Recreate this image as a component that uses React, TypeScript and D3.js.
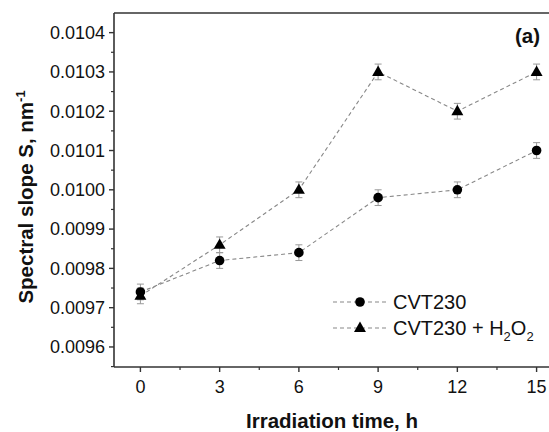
import * as d3 from 'd3';

const times = [0, 3, 6, 9, 12, 15];
const cvt230 = [0.00974, 0.00982, 0.00984, 0.00998, 0.01, 0.0101];
const cvt230H2O2 = [0.00973, 0.00986, 0.01, 0.0103, 0.0102, 0.0103];
const errCvt = [0.00002, 0.00002, 0.00002, 0.00002, 0.00002, 0.00002];
const errH2O2 = [0.00002, 0.00002, 0.00002, 0.00002, 0.00002, 0.00002];
const yTicks = [0.0096, 0.0097, 0.0098, 0.0099, 0.01, 0.0101, 0.0102, 0.0103, 0.0104];
const xTicks = [0, 3, 6, 9, 12, 15];

const W = 549;
const H = 432;
const margin = { left: 114, top: 13, right: 563, bottom: 367 };
const FONT = 'Liberation Sans, Arial, sans-serif';

export default function App() {
  const x = d3.scaleLinear().domain([-1, 16]).range([margin.left, margin.right]);
  const y = d3.scaleLinear().domain([0.009549, 0.01045]).range([margin.bottom, margin.top]);

  const line = d3.line<number>()
    .x((_, i) => x(times[i]))
    .y((d) => y(d));

  const yMinor = d3.range(0.00955, 0.01045, 0.00005).filter((v) => !yTicks.some((t) => Math.abs(t - v) < 1e-9));
  const xMinor = d3.range(-1.5, 16, 1.5).filter((v) => v >= -1 && !xTicks.includes(v));

  const tri = d3.symbol().type(d3.symbolTriangle).size(62)();
  const axisColor = '#333';
  const gray = '#888';

  const series = [
    { vals: cvt230, err: errCvt, marker: 'circle' },
    { vals: cvt230H2O2, err: errH2O2, marker: 'tri' },
  ];

  return (
    <svg width={W} height={H} style={{ position: 'absolute', left: 0, top: 0 }} fontFamily={FONT}>
      <rect width={W} height={H} fill="#fff" />
      {/* lines */}
      {series.map((s, k) => (
        <path key={k} d={line(s.vals) || ''} fill="none" stroke={gray} strokeWidth={1.1} strokeDasharray="4,3" />
      ))}
      {/* error bars */}
      {series.map((s, k) =>
        s.vals.map((v, i) => (
          <g key={`e${k}-${i}`} stroke="#999" strokeWidth={1}>
            <line x1={x(times[i])} x2={x(times[i])} y1={y(v - s.err[i])} y2={y(v + s.err[i])} />
            <line x1={x(times[i]) - 3.5} x2={x(times[i]) + 3.5} y1={y(v - s.err[i])} y2={y(v - s.err[i])} />
            <line x1={x(times[i]) - 3.5} x2={x(times[i]) + 3.5} y1={y(v + s.err[i])} y2={y(v + s.err[i])} />
          </g>
        ))
      )}
      {/* markers */}
      {series.map((s, k) =>
        s.vals.map((v, i) =>
          s.marker === 'circle' ? (
            <circle key={`m${k}-${i}`} cx={x(times[i])} cy={y(v)} r={4.8} fill="#000" />
          ) : (
            <path key={`m${k}-${i}`} d={tri || ''} transform={`translate(${x(times[i])},${y(v) + 0.5})`} fill="#000" />
          )
        )
      )}
      {/* frame */}
      <g stroke={axisColor} strokeWidth={1.6} fill="none">
        <line x1={margin.left} x2={margin.left} y1={margin.top} y2={margin.bottom} />
        <line x1={margin.left} x2={W} y1={margin.bottom} y2={margin.bottom} />
        <line x1={margin.left} x2={W} y1={margin.top} y2={margin.top} />
      </g>
      {/* y ticks */}
      {yTicks.map((t) => (
        <g key={`y${t}`}>
          <line x1={margin.left - 5} x2={margin.left} y1={y(t)} y2={y(t)} stroke={axisColor} strokeWidth={1.4} />
          <text x={margin.left - 9} y={y(t)} dy="0.35em" textAnchor="end" fontSize={18} fill="#111">
            {d3.format('.4f')(t)}
          </text>
        </g>
      ))}
      {yMinor.map((t) => (
        <line key={`ym${t}`} x1={margin.left - 3} x2={margin.left} y1={y(t)} y2={y(t)} stroke={axisColor} strokeWidth={1.2} />
      ))}
      {/* x ticks */}
      {xTicks.map((t) => (
        <g key={`x${t}`}>
          <line x1={x(t)} x2={x(t)} y1={margin.bottom} y2={margin.bottom + 5} stroke={axisColor} strokeWidth={1.4} />
          <text x={x(t)} y={393} textAnchor="middle" fontSize={18} fill="#111">
            {t}
          </text>
        </g>
      ))}
      {xMinor.map((t) => (
        <line key={`xm${t}`} x1={x(t)} x2={x(t)} y1={margin.bottom} y2={margin.bottom + 3} stroke={axisColor} strokeWidth={1.2} />
      ))}
      {/* axis titles */}
      <text x={332} y={428} textAnchor="middle" fontSize={20.5} fontWeight="bold" fill="#111">
        Irradiation time, h
      </text>
      <text transform="translate(33,197) rotate(-90)" textAnchor="middle" fontSize={20.5} fontWeight="bold" fill="#111">
        Spectral slope S, nm<tspan dy={-8} fontSize={13}>-1</tspan>
      </text>
      <text x={540} y={43} textAnchor="end" fontSize={20.5} fontWeight="bold" fill="#111">
        (a)
      </text>
      {/* legend */}
      <g>
        <line x1={333} x2={387} y1={302} y2={302} stroke={gray} strokeWidth={1.1} strokeDasharray="4,3" />
        <circle cx={360} cy={302} r={4.8} fill="#000" />
        <text x={393} y={302} dy="0.35em" fontSize={20} fill="#111">CVT230</text>
        <line x1={333} x2={387} y1={328} y2={328} stroke={gray} strokeWidth={1.1} strokeDasharray="4,3" />
        <path d={tri || ''} transform="translate(360,328.5)" fill="#000" />
        <text x={393} y={328} dy="0.35em" fontSize={20} fill="#111">
          CVT230 + H<tspan dy={6} fontSize={13}>2</tspan><tspan dy={-6}>O</tspan><tspan dy={6} fontSize={13}>2</tspan>
        </text>
      </g>
    </svg>
  );
}
